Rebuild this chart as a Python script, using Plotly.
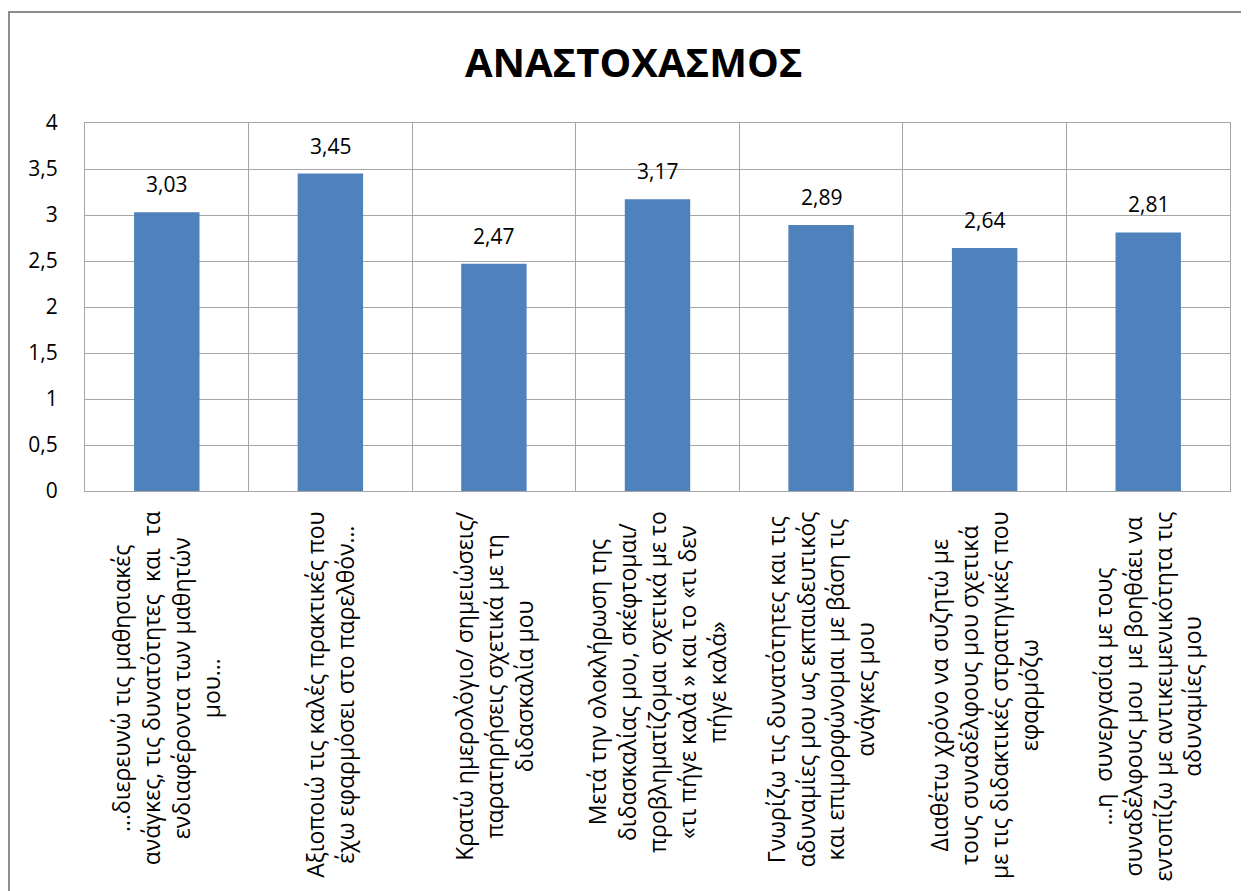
import plotly.graph_objects as go

# Items of the reflection questionnaire (multi-line, as in the source chart)
categories = [
    "…διερευνώ τις μαθησιακές<br>ανάγκες, τις δυνατότητες  και  τα<br>ενδιαφέροντα των μαθητών<br>μου…",
    "Αξιοποιώ τις καλές πρακτικές που<br>έχω εφαρμόσει στο παρελθόν…",
    "Κρατώ ημερολόγιο/ σημειώσεις/<br>παρατηρήσεις σχετικά με τη<br>διδασκαλία μου",
    "Μετά την ολοκλήρωση της<br>διδασκαλίας μου, σκέφτομαι/<br>προβληματίζομαι σχετικά με το<br>«τι πήγε καλά » και το «τι δεν<br>πήγε καλά»",
    "Γνωρίζω τις δυνατότητες και τις<br>αδυναμίες μου ως εκπαιδευτικός<br>και επιμορφώνομαι με βάση τις<br>ανάγκες μου",
    "Διαθέτω χρόνο να συζητώ με<br>τους συναδέλφους μου σχετικά<br>με τις διδακτικές στρατηγικές που<br>εφαρμόζω",
    "…η  συνεργασία με τους<br>συναδέλφους μου  με βοηθάει να<br>εντοπίζω με αντικειμενικότητα τις<br>αδυναμίες μου",
]
keys = [f"c{i}" for i in range(len(categories))]
values = [3.03, 3.45, 2.47, 3.17, 2.89, 2.64, 2.81]

title = "ΑΝΑΣΤΟΧΑΣΜΟΣ"
y_ticks = [0, 0.5, 1, 1.5, 2, 2.5, 3, 3.5, 4]

FONT = "Open Sans"
GRID = "#A6A6A6"

fig = go.Figure()
fig.add_bar(
    x=keys,
    y=values,
    marker_color="#4F81BD",
    marker_line_width=0,
    hovertemplate="%{y:.2f}<extra></extra>",
)

# Value labels above the bars
for k, v in zip(keys, values):
    fig.add_annotation(
        x=k, y=v, text=f"{v:.2f}".replace(".", ","),
        showarrow=False, xanchor="center", yanchor="bottom", yshift=12,
        font=dict(size=21, color="black", family=FONT),
    )

# Rotated, centred category labels below the axis
for k, lab in zip(keys, categories):
    fig.add_annotation(
        x=k, xref="x", y=-0.05, yref="paper",
        text=lab, textangle=-90, align="center",
        xanchor="center", yanchor="top", showarrow=False,
        font=dict(size=23, color="black", family=FONT),
    )

# Outer chart-area border
fig.add_shape(
    type="rect", xref="paper", yref="paper",
    x0=-0.0664, x1=1.04, y0=-1.15, y1=1.3016,
    line=dict(color="#8C8C8C", width=2), fillcolor="rgba(0,0,0,0)", layer="below",
)

fig.update_layout(
    template="none",
    width=1249,
    height=891,
    separators=",.",
    bargap=0.6,
    paper_bgcolor="white",
    plot_bgcolor="white",
    showlegend=False,
    font=dict(family=FONT, size=20, color="black"),
    title=dict(
        text=f"<b>{title}</b>", x=0.501, xanchor="center",
        y=0.938, yanchor="middle",
        font=dict(size=40, color="black", family=FONT),
    ),
    margin=dict(l=77, r=27, t=115, b=408),
    xaxis=dict(
        type="category", tickson="boundaries", showticklabels=False,
        showgrid=True, gridcolor=GRID, gridwidth=1,
        showline=True, linecolor=GRID, linewidth=1, mirror=True,
        ticks="", automargin=False,
    ),
    yaxis=dict(
        range=[0, 4], tickvals=y_ticks, ticktext=[str(v).replace(".", ",") for v in y_ticks],
        showgrid=True, gridcolor=GRID, gridwidth=1, zeroline=False,
        showline=True, linecolor=GRID, linewidth=1, mirror=True,
        ticks="", ticklabelstandoff=22, automargin=False,
        tickfont=dict(size=21, color="black", family=FONT),
    ),
)

fig.write_html("out.html")
